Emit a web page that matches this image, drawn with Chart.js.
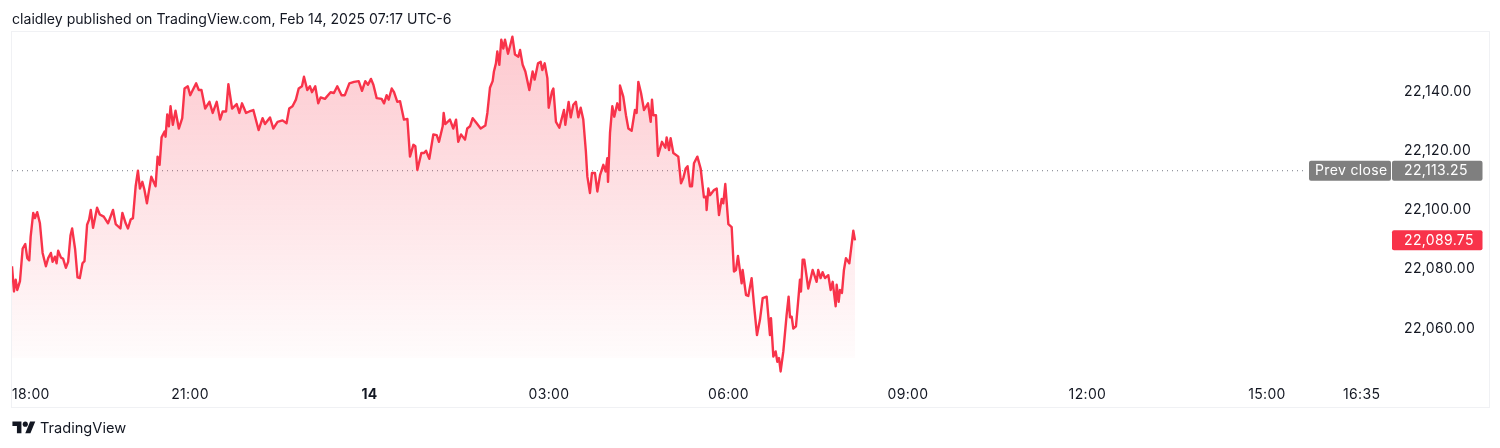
<!DOCTYPE html>
<html>
<head>
<meta charset="utf-8">
<title>claidley TradingView snapshot</title>
<script src="https://cdn.jsdelivr.net/npm/chart.js@4/dist/chart.umd.min.js"></script>
<style>
  html, body { margin: 0; padding: 0; background: #fff; }
  body { width: 1500px; height: 448px; position: relative; overflow: hidden; font-family: Inter, "Noto Sans", sans-serif; color: #131722; }
  #chart { position: absolute; left: 0; top: 0; }
  #frame { position: absolute; left: 11px; top: 31px; width: 1477px; height: 375px; border: 1px solid #f0f1f4; pointer-events: none; }
  #header { position: absolute; left: 12px; top: 10px; font-size: 14.1px; line-height: 17px; white-space: nowrap; }
  #brand { position: absolute; left: 12px; top: 419px; height: 18px; display: flex; align-items: center; font-size: 14.6px; font-weight: 400; }
  #brand svg { width: 24px; height: 18px; margin-right: 4px; }
</style>
</head>
<body>
<canvas id="chart" width="1500" height="448"></canvas>
<div id="frame"></div>
<div id="header">claidley published on TradingView.com, Feb 14, 2025 07:17 UTC-6</div>
<div id="brand">
  <svg viewBox="0 0 36 28" fill="#131722"><path d="M14 22H7V11H0V4h14v18zM28 22h-8l7.5-18h8L28 22z"/><circle cx="20" cy="8" r="4"/></svg>
  <span>TradingView</span>
</div>
<script>
// minutes since 18:00 on the session axis
const minutes = [
  1.5, 3.5, 5.2, 6.8, 9.5, 12.2, 14.8, 16.8, 18.8, 20.2, 22.8, 24.5, 26.8, 29.5, 32.2, 35.5, 37.8, 40.5, 42.2, 44.5,
  46.2, 47.8, 50.5, 52.8, 55.5, 57.8, 60.2, 61.8, 64.8, 67.2, 69.5, 72.2, 74.2, 76.8, 78.8, 80.5, 82.8, 86.8, 89.5, 93.5,
  97.8, 102.8, 105.5, 110.2, 112.2, 115.5, 117.8, 120.5, 122.8, 125.5, 127.8, 129.8, 132.2, 134.2, 136.8, 141.2, 145.5, 147.5, 149.5, 151.5,
  154.5, 155.5, 157.2, 158.8, 160.5, 162.8, 165.5, 168.8, 172.2, 174.5, 177.8, 180.2, 182.8, 186.2, 188.8, 191.5, 195.2, 199.5, 202.8, 206.8,
  210.2, 212.8, 216.2, 218.5, 222.2, 226.8, 229.5, 232.2, 236.2, 239.5, 243.5, 248.8, 252.8, 255.2, 260.2, 263.5, 267.8, 272.8, 276.8, 279.5,
  282.8, 286.2, 289, 292.3, 294.3, 297.6, 300.3, 302.3, 305.6, 308.6, 311, 315.3, 321, 324.3, 327.7, 332, 335.3, 339.8, 344.5, 349.2,
  352.5, 355.8, 358.5, 361.5, 363.9, 367.2, 372.2, 374.6, 377.2, 379.2, 382.3, 384.6, 387.9, 390.6, 394.6, 398, 400.6, 404, 406, 408,
  412, 414.7, 416.7, 420, 424, 427.4, 429.7, 433.4, 434.4, 436, 440.7, 444, 446.8, 449, 451.8, 455.8, 458, 460.8, 463.5, 467.5,
  471.5, 476.2, 478.2, 480.8, 483.5, 484.8, 486.8, 488.2, 490.2, 492.2, 494.2, 495.9, 498.9, 500.9, 503.3, 505.9, 509.3, 511, 513.6, 516.3,
  520.3, 523.6, 525.6, 529, 531.7, 533.3, 535.7, 538.4, 539.7, 543, 544.4, 547, 550.4, 555, 556.4, 559.7, 561.8, 564.4, 567, 569.4,
  571.8, 574.4, 577, 578.5, 581.1, 583.1, 586.1, 588.5, 591.2, 594.5, 596.8, 598.5, 599.2, 601.2, 603.5, 605.5, 608.5, 610.5, 611.2, 614.5,
  617.2, 619.6, 622.9, 626.2, 627.9, 629.6, 632.3, 635.3, 639.3, 642, 643.3, 644.6, 647.3, 649.3, 653.3, 656.7, 658, 660.4, 662, 664.7,
  669.7, 672.4, 674.7, 677.1, 679, 681.4, 683.4, 685.4, 688.8, 692.1, 695.4, 697.5, 698.1, 699.8, 701.5, 705.5, 708.2, 710.5, 713.2, 714.8,
  716.8, 719.9, 723.2, 725.5, 727.5, 729.5, 733.2, 734.2, 737.6, 739.9, 743.2, 745.6, 748.6, 751.6, 754.3, 758.3, 761.6, 762.6, 765, 767.3,
  769, 770.7, 772.3, 775, 778.3, 780.3, 781.7, 783.4, 785, 787.7, 790.4, 791.7, 792.7, 794.4, 796, 800, 804.4, 808.4, 810, 812.4,
  814.4, 816.8, 820.1, 822.5, 824.5, 827.5, 828.5, 830.5, 831.8, 833.8, 835.8, 837.8, 841.2, 845.2, 846.9
];
const prices = [
  22081, 22072.5, 22076.5, 22073, 22076, 22087, 22088.5, 22083.75, 22083, 22091, 22099, 22097.25, 22099.25, 22095.5, 22085.5, 22081, 22083.75, 22085.5, 22082.5, 22084.25,
  22082, 22086.25, 22084, 22083.5, 22080.5, 22082.5, 22091.5, 22093.75, 22086.75, 22077.25, 22077, 22082, 22082.75, 22095, 22096.75, 22100, 22094, 22100.75, 22098.5, 22097.75,
  22095.5, 22100, 22095.25, 22093.75, 22099, 22095.5, 22093.75, 22096.75, 22097.25, 22108, 22113.25, 22107.25, 22109.5, 22107, 22102.25, 22111.25, 22108, 22118, 22115.25, 22124.5,
  22126.5, 22124.75, 22132.25, 22128.25, 22135, 22128.75, 22133.5, 22127.5, 22131, 22141, 22141.75, 22138.75, 22140.5, 22142.75, 22140.5, 22140.5, 22134.25, 22136.5, 22132.75, 22136.5,
  22130.5, 22133.25, 22133.25, 22142.5, 22134.25, 22135.75, 22132.75, 22136, 22132.75, 22133.25, 22133.75, 22127, 22131, 22129, 22131.25, 22127.5, 22129.75, 22130.25, 22129.25, 22134.25,
  22135, 22137.25, 22141, 22141.75, 22145, 22140.5, 22141.75, 22139.75, 22141.75, 22136, 22138, 22137.5, 22139.75, 22139.5, 22141.75, 22138.75, 22138.75, 22142.75, 22143.25, 22143.5,
  22140.25, 22143.5, 22142.25, 22144.25, 22142.25, 22137.75, 22137.5, 22136, 22138.75, 22137.25, 22141, 22139.75, 22136.5, 22136.75, 22130.5, 22130.75, 22118, 22122, 22121.5, 22113.5,
  22119.25, 22119.25, 22120, 22117.25, 22125.5, 22125.25, 22123, 22128.25, 22132.75, 22129, 22130.5, 22127.5, 22130.5, 22123, 22125.5, 22123.75, 22127.5, 22128.25, 22131, 22129.25,
  22127.5, 22128.5, 22132.75, 22141.25, 22143.5, 22146.75, 22149.5, 22153.5, 22149, 22157.5, 22154.5, 22157.5, 22152.75, 22155.25, 22158.5, 22152.5, 22151.75, 22154, 22149, 22146.75,
  22140.5, 22146.75, 22144, 22149.5, 22150, 22147.25, 22149.5, 22144.5, 22134.5, 22140, 22141, 22129.75, 22127.75, 22133.75, 22128.75, 22136.5, 22131.25, 22135.5, 22136.5, 22131.25,
  22134.5, 22130.5, 22119.75, 22111.25, 22105.75, 22112.5, 22112.5, 22106.25, 22111.75, 22115.25, 22113, 22117.5, 22109.5, 22126, 22135, 22131.5, 22136, 22133.75, 22142, 22138.25,
  22132, 22127.5, 22126.75, 22133.75, 22132.75, 22143.25, 22139.5, 22133.75, 22136, 22129.75, 22137.25, 22132, 22132, 22118.25, 22123, 22121, 22124.5, 22120.25, 22124.25, 22119.25,
  22118, 22109, 22110.75, 22114, 22114.75, 22108, 22108, 22115.75, 22118, 22114, 22104.25, 22104.5, 22100, 22107.25, 22105, 22106.75, 22107.25, 22098.25, 22103.75, 22102.25,
  22108.75, 22095.25, 22094.25, 22079.25, 22079.75, 22084.5, 22075.25, 22079.75, 22071.25, 22071, 22077, 22068, 22057.75, 22063, 22070.25, 22070.75, 22057.75, 22063.5, 22050.5, 22052.25,
  22048.75, 22050, 22045.5, 22052.25, 22064.5, 22070.75, 22063.75, 22064, 22060, 22060.75, 22071.25, 22076.5, 22072.5, 22083.25, 22083.25, 22073.5, 22079.75, 22075.75, 22079.75, 22077,
  22079, 22077, 22078, 22073, 22075.75, 22067.5, 22074.75, 22069, 22073, 22072, 22079.75, 22083.75, 22082, 22093, 22089.75
];
const prevClose = 22113.25;
const lastPrice = 22089.75;
const priceTicks = [22060, 22080, 22100, 22120, 22140];
const timeTicks = [1.5, 180, 360, 540, 720, 900, 1080, 1260, 1355, 1385.4];
const timeLabels = ['18:00', '21:00', '14', '03:00', '06:00', '09:00', '12:00', '15:00', '16:35', ' '];
const midnightTick = 360;

const xMin = 1.5;
const xMax = 1385.4;
const yMin = 22043.96;
const yMax = 22160.08;
const fillBase = 22050;
const prevCloseEnd = 1297;

const lineColor = '#f8334a';
const tagGrey = '#7f7f7f';
const fontFamily = 'Inter, "Noto Sans", sans-serif';

function areaGradient(context) {
    const { chart } = context;
    if (!chart.chartArea) return 'rgba(248,51,74,0.2)';
    const y = chart.scales.y;
    const g = chart.ctx.createLinearGradient(0, y.getPixelForValue(yMax), 0, y.getPixelForValue(fillBase));
    g.addColorStop(0, 'rgba(248,51,74,0.27)');
    g.addColorStop(1, 'rgba(248,51,74,0.015)');
    return g;
}

// price tags sitting over the right axis, TradingView style
const tagsPlugin = {
    id: 'tags',
    beforeDraw(chart) {
        chart.ctx.letterSpacing = '0.35px';
    },
    afterDatasetsDraw(chart) {
        const { ctx, chartArea, scales } = chart;
        const left = chartArea.right;
        const h = 20;
        const drawTag = (x, w, pad, value, text, color) => {
            const y = scales.y.getPixelForValue(value);
            ctx.fillStyle = color;
            ctx.beginPath();
            ctx.roundRect(x, y - h / 2, w, h, 2);
            ctx.fill();
            ctx.fillStyle = '#fff';
            ctx.font = '14px ' + fontFamily;
            ctx.textAlign = 'left';
            ctx.textBaseline = 'middle';
            ctx.fillText(text, x + pad, y + 0.5);
        };
        const fmt = v => v.toLocaleString('en-US', { minimumFractionDigits: 2 });
        ctx.save();
        drawTag(left - 83, 82, 6, prevClose, 'Prev close', tagGrey);
        drawTag(left, 90.5, 12, prevClose, fmt(prevClose), tagGrey);
        drawTag(left, 90.5, 12, lastPrice, fmt(lastPrice), lineColor);
        ctx.restore();
    },
};

new Chart(document.getElementById('chart').getContext('2d'), {
    type: 'line',
    data: {
        datasets: [
            {
                data: minutes.map((m, i) => ({ x: m, y: prices[i] })),
                borderColor: lineColor,
                borderWidth: 2.4,
                borderJoinStyle: 'round',
                backgroundColor: areaGradient,
                fill: { value: fillBase },
                pointRadius: 0,
                tension: 0,
            },
            {
                data: [{ x: xMin, y: prevClose }, { x: prevCloseEnd, y: prevClose }],
                borderColor: '#787b86',
                borderWidth: 1,
                borderDash: [1, 4],
                pointRadius: 0,
                fill: false,
            },
        ],
    },
    options: {
        responsive: false,
        animation: false,
        devicePixelRatio: 1,
        layout: { padding: { left: 12, top: 32, right: 12, bottom: 41 } },
        plugins: { legend: { display: false }, tooltip: { enabled: false } },
        scales: {
            x: {
                type: 'linear',
                min: xMin,
                max: xMax,
                grid: { display: false },
                border: { display: false },
                afterFit: scale => { scale.height = 31; },
                afterBuildTicks: scale => { scale.ticks = timeTicks.map(value => ({ value })); },
                ticks: {
                    autoSkip: false,
                    maxRotation: 0,
                    align: 'inner',
                    padding: 2,
                    color: '#131722',
                    font: ctx => ({
                        family: fontFamily,
                        size: 14,
                        weight: ctx.tick && ctx.tick.value === midnightTick ? '700' : '400',
                    }),
                    callback: (value, index) => timeLabels[index],
                },
            },
            y: {
                position: 'right',
                min: yMin,
                max: yMax,
                grid: { display: false, drawTicks: false },
                border: { display: false },
                afterFit: scale => { scale.width = 96; },
                afterBuildTicks: scale => { scale.ticks = priceTicks.map(value => ({ value })); },
                ticks: {
                    padding: 12,
                    color: '#131722',
                    font: { family: fontFamily, size: 14 },
                    callback: value => value.toLocaleString('en-US', { minimumFractionDigits: 2 }),
                },
            },
        },
    },
    plugins: [tagsPlugin],
});
</script>
</body>
</html>
